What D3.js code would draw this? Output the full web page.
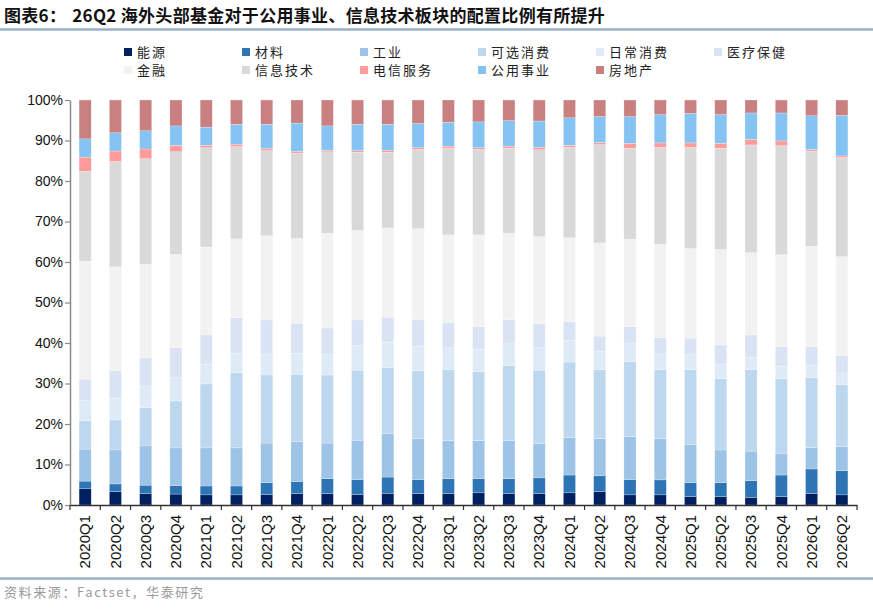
<!DOCTYPE html>
<html>
<head>
<meta charset="utf-8">
<script src="https://cdn.jsdelivr.net/npm/d3@7"></script>
<style>
  body { margin: 0; background: #fff; }
  text { font-family: "Liberation Sans", Arial, sans-serif; }
  .cjk { font-family: "Noto Sans CJK SC", sans-serif; }
</style>
</head>
<body>
<div id="container"></div>
<script>
// quarters on the x axis
var quarters = ["2020Q1","2020Q2","2020Q3","2020Q4","2021Q1","2021Q2","2021Q3","2021Q4",
  "2022Q1","2022Q2","2022Q3","2022Q4","2023Q1","2023Q2","2023Q3","2023Q4",
  "2024Q1","2024Q2","2024Q3","2024Q4","2025Q1","2025Q2","2025Q3","2025Q4",
  "2026Q1","2026Q2"];

// sectors, bottom to top
var sectors = ["能源","材料","工业","可选消费","日常消费","医疗保健","金融","信息技术","电信服务","公用事业","房地产"];
var colors = ["#002060","#2e75b6","#9dc3e6","#bdd7ee","#deebf7","#dae3f3","#f2f2f2","#d9d9d9","#ff9b9b","#85c3f3","#c88080"];

// weights (%) per sector, one value per quarter
var energy     = [4.0,3.3,2.8,2.7,2.5,2.5,2.6,2.8,2.8,2.6,2.9,2.8,2.8,3.0,2.8,2.8,3.0,3.3,2.5,2.5,2.1,2.1,1.9,2.1,2.8,2.5];
var materials  = [1.9,1.9,2.1,2.1,2.2,2.2,2.9,3.0,3.7,3.7,4.0,3.5,3.7,3.5,3.7,3.9,4.4,3.9,3.8,3.7,3.4,3.4,4.1,5.3,6.1,6.0];
var industrial = [7.9,8.4,9.7,9.3,9.4,9.4,9.8,9.8,8.8,9.7,10.7,10.1,9.4,9.4,9.4,8.4,9.2,9.2,10.6,10.2,9.4,8.1,7.3,5.4,5.3,5.9];
var consDisc   = [7.0,7.4,9.4,11.6,15.8,18.6,16.8,16.7,16.8,17.3,16.3,16.8,17.6,17.0,18.5,18.2,18.7,17.0,18.5,17.0,18.5,17.6,20.1,18.4,17.2,15.3];
var consStap   = [5.1,5.4,5.4,5.7,4.9,4.8,5.0,5.2,5.2,6.0,6.3,5.9,5.5,5.5,5.4,5.5,5.3,4.6,4.4,3.9,3.7,3.6,3.0,3.0,3.0,2.9];
var health     = [5.2,6.8,6.9,7.4,7.2,8.8,8.6,7.4,6.4,6.4,6.2,6.6,6.1,5.6,6.0,6.0,4.7,3.7,4.2,4.0,4.1,4.7,5.6,4.9,4.7,4.3];
var financial  = [29.1,25.6,23.2,23.1,21.7,19.4,20.8,20.9,23.4,22.1,22.0,22.5,21.6,22.7,21.3,21.5,20.7,23.0,21.6,23.1,22.1,23.6,20.3,22.7,24.8,24.4];
var infoTech   = [22.2,26.0,26.0,25.3,24.5,22.8,21.0,21.1,20.1,19.3,18.7,19.6,21.4,21.1,21.0,21.4,22.3,24.3,22.5,23.9,25.0,25.0,26.6,26.9,23.5,24.5];
var telecom    = [3.5,2.6,2.4,1.6,0.6,0.6,0.5,0.4,0.4,0.4,0.5,0.4,0.5,0.4,0.5,0.6,0.5,0.5,1.2,1.1,1.1,1.2,1.4,1.2,0.4,0.4];
var utilities  = [4.5,4.5,4.5,4.8,4.5,4.9,6.0,7.0,6.0,6.5,6.4,6.0,5.9,6.4,6.3,6.5,6.8,6.4,6.6,7.0,7.3,7.1,6.5,6.9,8.3,10.0];
var realEstate = [9.6,8.1,7.6,6.4,6.7,6.0,6.0,5.7,6.4,6.0,6.0,5.8,5.5,5.4,5.1,5.2,4.4,4.1,4.1,3.6,3.3,3.6,3.2,3.2,3.9,3.8];

var series = [energy, materials, industrial, consDisc, consStap, health, financial, infoTech, telecom, utilities, realEstate];

var yTicks = [0,10,20,30,40,50,60,70,80,90,100];

var W = 873, H = 614;
var margin = {top: 100, left: 70, right: 16, bottom: 109};
var width = W - margin.left - margin.right,
    height = H - margin.top - margin.bottom;

// rows of the table for d3.stack
var table = quarters.map(function(q, i) {
  var row = {quarter: q};
  sectors.forEach(function(s, j) { row[s] = series[j][i]; });
  return row;
});

var svg = d3.select("#container").append("svg")
  .attr("width", W).attr("height", H);

// title
var title = svg.append("text").attr("class", "cjk")
  .attr("x", 4).attr("y", 22)
  .style("font-size", "17px").style("font-weight", "bold").attr("fill", "#111")
  .style("letter-spacing", "0.3px");
title.append("tspan").text("图表6：");
title.append("tspan").attr("dx", 6).text("26Q2 海外头部基金对于公用事业、信息技术板块的配置比例有所提升");

svg.append("line").attr("x1", 0).attr("x2", W).attr("y1", 29.5).attr("y2", 29.5)
  .attr("stroke", "#9bb0c8").attr("stroke-width", 2.5);
svg.append("line").attr("x1", 0).attr("x2", W).attr("y1", 578.5).attr("y2", 578.5)
  .attr("stroke", "#9bb0c8").attr("stroke-width", 2.5);

svg.append("text").attr("class", "cjk")
  .attr("x", 4).attr("y", 597)
  .style("font-size", "13px").attr("fill", "#9a9a9a")
  .style("letter-spacing", "1.6px")
  .text("资料来源：Factset，华泰研究");

// legend
var legend = svg.selectAll(".legend")
  .data(sectors).enter()
  .append("g")
    .attr("class", "legend")
    .attr("transform", function(d, i) {
      return "translate(" + (124 + (i % 6) * 118) + "," + (52 + Math.floor(i / 6) * 18) + ")";
    });
legend.append("rect")
  .attr("x", 0).attr("y", -4).attr("width", 8).attr("height", 8)
  .style("fill", function(d, i) { return colors[i]; });
legend.append("text").attr("class", "cjk")
  .attr("x", 13).attr("y", 0).attr("dy", ".35em")
  .style("font-size", "13px").attr("fill", "#222")
  .style("letter-spacing", "2px")
  .text(function(d) { return d; });

var g = svg.append("g")
  .attr("transform", "translate(" + margin.left + "," + margin.top + ")");

var x = d3.scaleBand().domain(quarters).range([0, width]).paddingInner(0.6).paddingOuter(0.3);
var y = d3.scaleLinear().domain([0, 100]).range([height, 0]);

var stack = d3.stack().keys(sectors)(table);

g.selectAll(".layer")
  .data(stack).enter()
  .append("g")
    .attr("class", "layer")
    .attr("fill", function(d, i) { return colors[i]; })
  .selectAll("rect")
  .data(function(d) { return d; }).enter()
  .append("rect")
    .attr("x", function(d) { return x(d.data.quarter); })
    .attr("width", x.bandwidth())
    .attr("y", function(d) { return y(d[1]); })
    .attr("height", function(d) { return y(d[0]) - y(d[1]); })
    .attr("stroke", "#fff").attr("stroke-width", 0.4).attr("stroke-opacity", 0.6);

// y axis
var yAxis = g.append("g")
  .call(d3.axisLeft(y).tickValues(yTicks).tickSize(5).tickSizeOuter(0)
    .tickFormat(function(d) { return d + "%"; }));
yAxis.select(".domain").attr("stroke", "#8a8a8a").attr("stroke-width", 1.5);
yAxis.selectAll(".tick line").attr("stroke", "#8a8a8a").attr("stroke-width", 1.2);
yAxis.selectAll("text").style("font-size", "14px").attr("fill", "#111").attr("x", -7);

// x axis: ticks between the bars
var xAxis = g.append("g")
  .attr("transform", "translate(0," + height + ")")
  .call(d3.axisBottom(x).tickSize(0).tickSizeOuter(0));
xAxis.select(".domain").attr("stroke", "#333").attr("stroke-width", 1.3);
xAxis.selectAll("text")
  .style("font-size", "15px").attr("fill", "#111")
  .attr("transform", "rotate(-90)")
  .attr("x", -10).attr("y", 0).attr("dy", ".35em")
  .style("text-anchor", "end");

xAxis.selectAll(".sep")
  .data(d3.range(quarters.length + 1)).enter()
  .append("line")
    .attr("class", "sep")
    .attr("x1", function(i) { return i * width / quarters.length; })
    .attr("x2", function(i) { return i * width / quarters.length; })
    .attr("y1", 0).attr("y2", 5)
    .attr("stroke", "#333").attr("stroke-width", 1.2);
</script>
</body>
</html>
